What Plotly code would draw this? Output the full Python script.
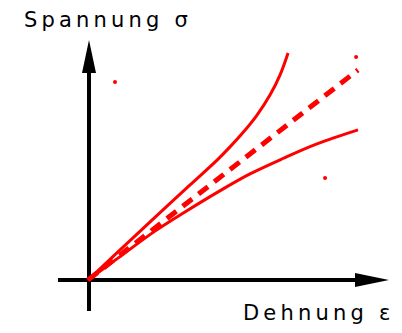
import plotly.graph_objects as go

# --- data (arbitrary strain / stress units) ---
upper_strain = [0, 1.11, 2.37, 3.78, 4.78, 5.26, 5.74, 6.26, 6.74, 7.11, 7.41]
upper_stress = [0, 1.04, 2.22, 3.52, 4.44, 4.93, 5.46, 6.11, 6.85, 7.59, 8.41]

lower_strain = [0, 1.11, 2.48, 3.59, 4.93, 6.00, 7.22, 8.48, 10.00]
lower_stress = [0, 0.81, 1.81, 2.52, 3.33, 3.93, 4.50, 5.04, 5.56]

linear_strain = [0, 10.0]
linear_stress = [0, 7.78]

dot_strain = [1.00, 9.93, 8.78]
dot_stress = [7.33, 8.26, 3.78]

y_label = "Spannung σ"
x_label = "Dehnung ε"

RED = "#ff0000"
U = 27.0  # px per unit
W, H = 402, 333
OX, OY = 88, 280  # origin in screen px
PAD = 8           # page body margin

def spaced(s):
    return "\u2009".join(list(s))

fig = go.Figure()
fig.add_trace(go.Scatter(x=upper_strain, y=upper_stress, mode="lines",
                         line=dict(color=RED, width=3, shape="spline", smoothing=1.0),
                         hoverinfo="skip"))
fig.add_trace(go.Scatter(x=lower_strain, y=lower_stress, mode="lines",
                         line=dict(color=RED, width=3, shape="spline", smoothing=1.0),
                         hoverinfo="skip"))
fig.add_trace(go.Scatter(x=linear_strain, y=linear_stress, mode="lines",
                         line=dict(color=RED, width=5, dash="12px,8px"), hoverinfo="skip"))
fig.add_trace(go.Scatter(x=dot_strain, y=dot_stress, mode="markers",
                         marker=dict(color=RED, size=4), hoverinfo="skip"))

def px2x(p):
    return (p - OX) / U

def py2y(p):
    return (OY - p) / U

ax = px2x(89)
shapes = [
    dict(type="line", x0=px2x(58), x1=px2x(357), y0=0, y1=0,
         line=dict(color="black", width=4), layer="below"),
    dict(type="line", x0=ax, x1=ax, y0=py2y(311), y1=py2y(71),
         line=dict(color="black", width=4), layer="below"),
    dict(type="path",
         path=f"M {ax} {py2y(40)} L {ax - 7/U} {py2y(73)} L {ax + 7/U} {py2y(73)} Z",
         fillcolor="black", line=dict(width=0)),
    dict(type="path",
         path=f"M {px2x(389)} 0 L {px2x(355)} {7/U} L {px2x(355)} {-7/U} Z",
         fillcolor="black", line=dict(width=0)),
]

annotations = [
    dict(x=px2x(106), y=py2y(20), text=spaced(y_label), showarrow=False,
         xanchor="center", yanchor="middle",
         font=dict(family="DejaVu Sans", size=21, color="black")),
    dict(x=px2x(316), y=py2y(313), text=spaced(x_label), showarrow=False,
         xanchor="center", yanchor="middle",
         font=dict(family="DejaVu Sans", size=21, color="black")),
]

fig.update_layout(
    width=W, height=H,
    margin=dict(l=0, r=0, t=0, b=0),
    paper_bgcolor="white", plot_bgcolor="white",
    showlegend=False,
    xaxis=dict(range=[px2x(PAD), px2x(W + PAD)], visible=False, fixedrange=True),
    yaxis=dict(range=[py2y(H + PAD), py2y(PAD)], visible=False, fixedrange=True),
    shapes=shapes, annotations=annotations,
)

fig.write_html("out.html", config={"displayModeBar": False})
